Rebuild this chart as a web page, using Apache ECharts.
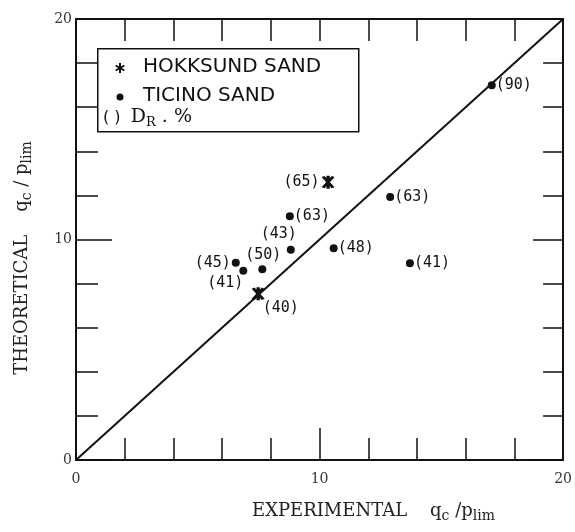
<!DOCTYPE html>
<html>
<head>
<meta charset="utf-8">
<script src="https://cdn.jsdelivr.net/npm/echarts@6/dist/echarts.min.js"></script>
<style>
  html, body { margin: 0; padding: 0; background: #fff; }
  #chart { width: 575px; height: 532px; }
</style>
</head>
<body>
<div id="chart"></div>
<script>
// Hokksund sand (stars)
const hokksundX = [10.35, 7.48]
const hokksundY = [12.6, 7.54]
const hokksundDr = [65, 40]

// Ticino sand (dots)
const ticinoX = [8.78, 8.82, 10.58, 7.65, 6.56, 6.87, 12.9, 13.71, 17.07]
const ticinoY = [11.06, 9.53, 9.6, 8.65, 8.95, 8.58, 11.93, 8.92, 17.0]
const ticinoDr = [63, 43, 48, 50, 45, 41, 63, 41, 90]

// 1:1 line
const lineX = [0, 20]
const lineY = [0, 20]

const axisTickLabels = ['0', '10', '20']

// label placement per point (layout, not data)
const hokksundLabelPos = [
  { position: 'left', offset: [0, 0] },
  { position: 'right', offset: [-4, 14] },
]
const ticinoLabelPos = [
  { position: 'right', offset: [-2, 0] },
  { position: 'top', offset: [-12, -2] },
  { position: 'right', offset: [-2, 0] },
  { position: 'top', offset: [1, -1] },
  { position: 'left', offset: [1, 0] },
  { position: 'bottom', offset: [-18, -1] },
  { position: 'right', offset: [-2, 0] },
  { position: 'right', offset: [-2, 0] },
  { position: 'right', offset: [-2, 0] },
]

const ink = '#111'
const labelFont = { fontFamily: 'DejaVu Sans Mono', fontSize: 15, color: ink }

const starPath =
  'path://M-1,-6 L1,-6 L1,6 L-1,6 Z M2.134,5.696 L-3.866,-4.696 L-2.134,-5.696 L3.866,4.696 Z M3.866,-4.696 L-2.134,5.696 L-3.866,4.696 L2.134,-5.696 Z'

function points(xs, ys, drs, pos) {
  return xs.map((x, i) => ({
    value: [x, ys[i]],
    label: {
      show: true,
      formatter: '(' + drs[i] + ')',
      position: pos[i].position,
      offset: pos[i].offset,
      distance: 2,
      ...labelFont,
    },
  }))
}

function legendStar(cx, cy, r) {
  return [0, 60, 120].map((deg) => {
    const a = (deg * Math.PI) / 180
    return {
      type: 'line',
      shape: {
        x1: cx - r * Math.sin(a), y1: cy - r * Math.cos(a),
        x2: cx + r * Math.sin(a), y2: cy + r * Math.cos(a),
      },
      style: { stroke: ink, lineWidth: 2 },
      z: 11,
    }
  })
}

const chart = echarts.init(document.getElementById('chart'), null, { renderer: 'canvas' })

const axisBase = {
  type: 'value',
  min: 0,
  max: 20,
  interval: 10,
  splitLine: { show: false },
  axisLine: { onZero: false, lineStyle: { color: ink, width: 2 } },
}

const titleRich = {
  it: { fontFamily: 'DejaVu Serif', fontSize: 18, color: '#222' },
  sub: { fontFamily: 'DejaVu Serif', fontSize: 14, color: '#222', padding: [11, 0, 0, 0] },
}

chart.setOption({
  animation: false,
  backgroundColor: '#fff',
  grid: { left: 76, right: 9, top: 19, bottom: 72 },
  xAxis: [
    {
      ...axisBase,
      position: 'bottom',
      axisTick: { inside: true, length: 32, lineStyle: { color: ink, width: 1.5 } },
      minorTick: { show: true, splitNumber: 5, length: 22, lineStyle: { color: ink, width: 1.5 } },
      axisLabel: {
        margin: 12,
        fontFamily: 'DejaVu Serif',
        fontSize: 14,
        color: '#333',
        formatter: (v) => axisTickLabels[v / 10],
      },
    },
    {
      ...axisBase,
      position: 'top',
      axisTick: { inside: true, length: 22, lineStyle: { color: ink, width: 1.5 } },
      minorTick: { show: true, splitNumber: 5, length: 22, lineStyle: { color: ink, width: 1.5 } },
      axisLabel: { show: false },
    },
  ],
  yAxis: [
    {
      ...axisBase,
      position: 'left',
      axisTick: { inside: true, length: 36, lineStyle: { color: ink, width: 1.5 } },
      minorTick: { show: true, splitNumber: 5, length: 22, lineStyle: { color: ink, width: 1.5 } },
      axisLabel: {
        margin: 4,
        fontFamily: 'DejaVu Serif',
        fontSize: 14,
        color: '#333',
        formatter: (v) => axisTickLabels[v / 10],
      },
    },
    {
      ...axisBase,
      position: 'right',
      axisTick: { inside: true, length: 30, lineStyle: { color: ink, width: 1.5 } },
      minorTick: { show: true, splitNumber: 5, length: 20, lineStyle: { color: ink, width: 1.5 } },
      axisLabel: { show: false },
    },
  ],
  series: [
    {
      name: '1:1',
      type: 'line',
      data: lineX.map((x, i) => [x, lineY[i]]),
      symbol: 'none',
      lineStyle: { color: ink, width: 2 },
      z: 1,
    },
    {
      name: 'HOKKSUND SAND',
      type: 'scatter',
      symbol: starPath,
      symbolSize: 13,
      itemStyle: { color: ink, opacity: 1 },
      data: points(hokksundX, hokksundY, hokksundDr, hokksundLabelPos),
      z: 3,
    },
    {
      name: 'TICINO SAND',
      type: 'scatter',
      symbol: 'circle',
      symbolSize: 8,
      itemStyle: { color: ink, opacity: 1 },
      data: points(ticinoX, ticinoY, ticinoDr, ticinoLabelPos),
      z: 3,
    },
  ],
  graphic: [
    // legend box
    {
      type: 'rect',
      left: 97,
      top: 48,
      shape: { width: 261, height: 83 },
      style: { fill: '#fff', stroke: ink, lineWidth: 1.5 },
      z: 10,
    },
    ...legendStar(120, 68, 5),
    {
      type: 'circle',
      shape: { cx: 120, cy: 97, r: 3.5 },
      style: { fill: ink },
      z: 11,
    },
    {
      type: 'text',
      left: 143,
      top: 57,
      style: { text: 'HOKKSUND SAND', font: '20px "DejaVu Sans"', fill: ink },
      z: 11,
    },
    {
      type: 'text',
      left: 143,
      top: 86,
      style: { text: 'TICINO SAND', font: '20px "DejaVu Sans"', fill: ink },
      z: 11,
    },
    {
      type: 'text',
      left: 103,
      top: 108,
      style: {
        text: '( )  {d|D}{s|R}{d| . %}',
        font: '16px "DejaVu Sans"',
        fill: ink,
        rich: {
          d: { fontFamily: 'DejaVu Serif', fontSize: 19, color: ink },
          s: { fontFamily: 'DejaVu Serif', fontSize: 13, color: ink, padding: [11, 0, 0, 0] },
        },
      },
      z: 11,
    },
    // axis titles
    {
      type: 'text',
      left: 252,
      top: 502,
      style: {
        text: 'EXPERIMENTAL    {it|q}{sub|c}{it| /p}{sub|lim}',
        font: '18px "DejaVu Serif"',
        fill: '#222',
        rich: titleRich,
      },
    },
    {
      type: 'text',
      x: 22,
      y: 258,
      rotation: Math.PI / 2,
      style: {
        text: 'THEORETICAL    {it|q}{sub|c}{it| / p}{sub|lim}',
        font: '18px "DejaVu Serif"',
        fill: '#222',
        align: 'center',
        verticalAlign: 'middle',
        rich: titleRich,
      },
    },
  ],
})
</script>
</body>
</html>
